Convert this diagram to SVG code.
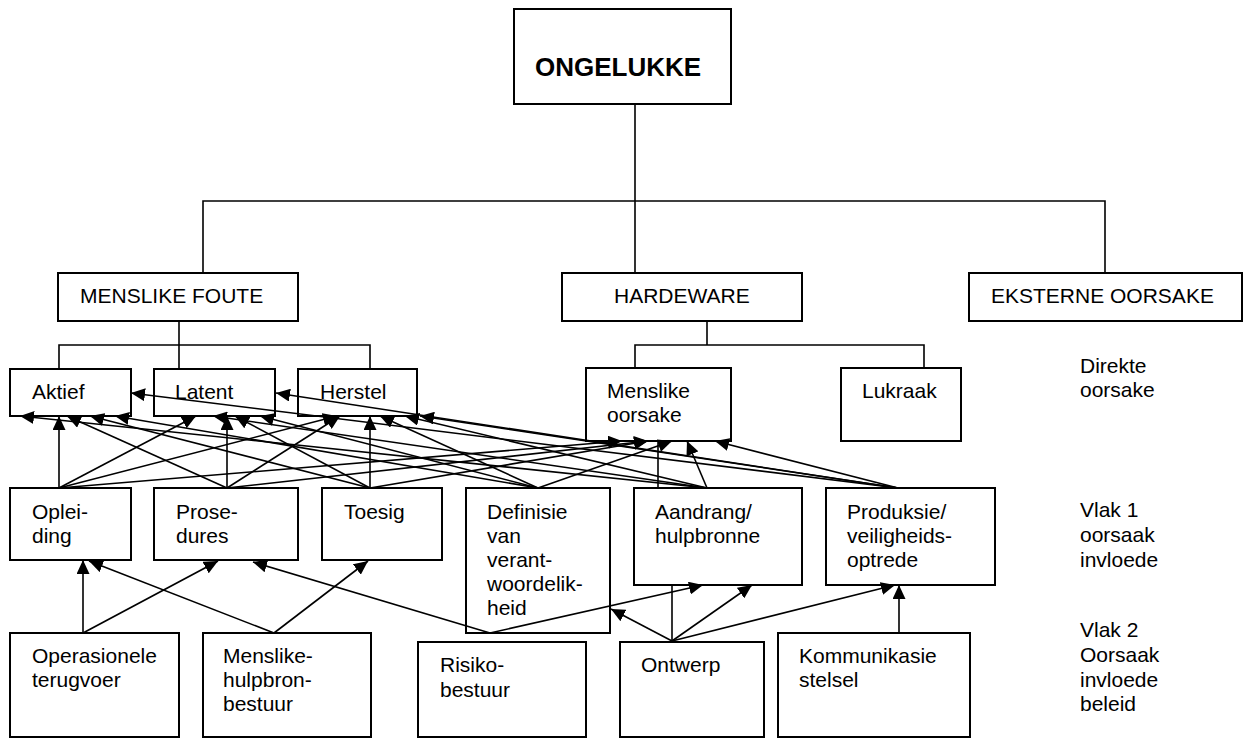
<svg xmlns="http://www.w3.org/2000/svg" width="1251" height="738" viewBox="0 0 1251 738">
  <defs>
    <marker id="arrow" markerUnits="userSpaceOnUse" markerWidth="15" markerHeight="13" refX="14" refY="6.5" orient="auto">
      <path d="M0,0 L14,6.5 L0,13 z" fill="#000"/>
    </marker>
    <style>
      .box { fill: none; stroke: #000; stroke-width: 2; }
      .tree { fill: none; stroke: #000; stroke-width: 1.6; }
      .link { fill: none; stroke: #000; stroke-width: 1.6; marker-end: url(#arrow); }
      .plain { fill: none; stroke: #000; stroke-width: 1.6; }
      text { font-family: "Liberation Sans", Arial, sans-serif; font-size: 21px; fill: #000; }
      .title { font-weight: bold; font-size: 26px; }
    </style>
  </defs>
  <rect width="1251" height="738" fill="#fff"/>

  <!-- hierarchy lines -->
  <g id="tree-lines">
    <path class="tree" d="M635,104 V273 M203,273 V201 H1105 V273"/>
    <path class="tree" d="M179,321 V369 M59,369 V345 H370 V369"/>
    <path class="tree" d="M707,321 V345 M635,368 V345 H924 V368"/>
  </g>

  <!-- nodes -->
  <g id="ongelukke">
    <rect class="box" x="514" y="9" width="217" height="95"/>
    <text class="title" x="535" y="76">ONGELUKKE</text>
  </g>
  <g id="menslike-foute">
    <rect class="box" x="58" y="273" width="240" height="48"/>
    <text x="80" y="303">MENSLIKE FOUTE</text>
  </g>
  <g id="hardeware">
    <rect class="box" x="562" y="273" width="240" height="48"/>
    <text x="614" y="303">HARDEWARE</text>
  </g>
  <g id="eksterne-oorsake">
    <rect class="box" x="969" y="273" width="273" height="48"/>
    <text x="991" y="303">EKSTERNE OORSAKE</text>
  </g>

  <g id="aktief">
    <rect class="box" x="10" y="369" width="121" height="47"/>
    <text x="32" y="399">Aktief</text>
  </g>
  <g id="latent">
    <rect class="box" x="154" y="369" width="121" height="47"/>
    <text x="175" y="399">Latent</text>
  </g>
  <g id="herstel">
    <rect class="box" x="298" y="369" width="119" height="47"/>
    <text x="320" y="399">Herstel</text>
  </g>
  <g id="menslike-oorsake">
    <rect class="box" x="586" y="368" width="145" height="73"/>
    <text x="607" y="398">Menslike<tspan x="607" dy="24">oorsake</tspan></text>
  </g>
  <g id="lukraak">
    <rect class="box" x="841" y="368" width="120" height="73"/>
    <text x="862" y="398">Lukraak</text>
  </g>

  <g id="opleiding">
    <rect class="box" x="10" y="488" width="121" height="72"/>
    <text x="32" y="519">Oplei-<tspan x="32" dy="24">ding</tspan></text>
  </g>
  <g id="prosedures">
    <rect class="box" x="154" y="488" width="144" height="72"/>
    <text x="176" y="519">Prose-<tspan x="176" dy="24">dures</tspan></text>
  </g>
  <g id="toesig">
    <rect class="box" x="322" y="488" width="120" height="72"/>
    <text x="344" y="519">Toesig</text>
  </g>
  <g id="definisie">
    <rect class="box" x="466" y="488" width="144" height="145"/>
    <text x="487" y="519">Definisie<tspan x="487" dy="24">van</tspan><tspan x="487" dy="24">verant-</tspan><tspan x="487" dy="24">woordelik-</tspan><tspan x="487" dy="24">heid</tspan></text>
  </g>
  <g id="aandrang">
    <rect class="box" x="634" y="488" width="168" height="97"/>
    <text x="655" y="519">Aandrang/<tspan x="655" dy="24">hulpbronne</tspan></text>
  </g>
  <g id="produksie">
    <rect class="box" x="826" y="488" width="169" height="97"/>
    <text x="847" y="519">Produksie/<tspan x="847" dy="24">veiligheids-</tspan><tspan x="847" dy="24">optrede</tspan></text>
  </g>

  <g id="operasionele">
    <rect class="box" x="10" y="633" width="169" height="104"/>
    <text x="32" y="663">Operasionele<tspan x="32" dy="24">terugvoer</tspan></text>
  </g>
  <g id="hulpbronbestuur">
    <rect class="box" x="203" y="633" width="168" height="104"/>
    <text x="223" y="663">Menslike-<tspan x="223" dy="24">hulpbron-</tspan><tspan x="223" dy="24">bestuur</tspan></text>
  </g>
  <g id="risiko">
    <rect class="box" x="418" y="642" width="168" height="95"/>
    <text x="440" y="672">Risiko-<tspan x="440" dy="25">bestuur</tspan></text>
  </g>
  <g id="ontwerp">
    <rect class="box" x="620" y="642" width="144" height="95"/>
    <text x="641" y="672">Ontwerp</text>
  </g>
  <g id="kommunikasie">
    <rect class="box" x="778" y="633" width="192" height="104"/>
    <text x="799" y="663">Kommunikasie<tspan x="799" dy="24">stelsel</tspan></text>
  </g>

  <!-- influence arrows, drawn over the boxes -->
  <g id="connectors">
    <!-- Opleiding -->
    <line class="link" x1="59" y1="488" x2="59" y2="416"/>
    <line class="link" x1="59" y1="488" x2="196" y2="416"/>
    <line class="link" x1="59" y1="488" x2="337" y2="416"/>
    <line class="link" x1="59" y1="488" x2="622" y2="441"/>
    <!-- Prosedures -->
    <line class="link" x1="227" y1="488" x2="67" y2="416"/>
    <line class="link" x1="227" y1="488" x2="227" y2="416"/>
    <line class="link" x1="227" y1="488" x2="340" y2="416"/>
    <line class="link" x1="227" y1="488" x2="648" y2="441"/>
    <!-- Toesig -->
    <line class="link" x1="370" y1="488" x2="90" y2="416"/>
    <line class="link" x1="370" y1="488" x2="235" y2="416"/>
    <line class="link" x1="370" y1="488" x2="370" y2="416"/>
    <line class="link" x1="370" y1="488" x2="648" y2="441"/>
    <!-- Definisie -->
    <line class="link" x1="538" y1="488" x2="115" y2="416"/>
    <line class="link" x1="538" y1="488" x2="260" y2="416"/>
    <line class="link" x1="538" y1="488" x2="380" y2="416"/>
    <line class="link" x1="538" y1="488" x2="672" y2="441"/>
    <!-- Aandrang -->
    <line class="link" x1="707" y1="488" x2="20" y2="416"/>
    <line class="link" x1="707" y1="488" x2="213" y2="416"/>
    <line class="link" x1="707" y1="488" x2="405" y2="416"/>
    <line class="link" x1="707" y1="488" x2="687" y2="441"/>
    <line class="plain" x1="658" y1="488" x2="658" y2="441"/>
    <!-- Produksie -->
    <line class="link" x1="898" y1="488" x2="131" y2="393"/>
    <line class="link" x1="898" y1="488" x2="276" y2="393"/>
    <line class="link" x1="898" y1="488" x2="420" y2="416"/>
    <line class="link" x1="898" y1="488" x2="715" y2="441"/>

    <!-- second level -->
    <line class="link" x1="83" y1="633" x2="83" y2="560"/>
    <line class="link" x1="83" y1="633" x2="218" y2="561"/>
    <line class="link" x1="274" y1="633" x2="89" y2="561"/>
    <line class="link" x1="274" y1="633" x2="368" y2="561"/>
    <line class="link" x1="490" y1="633" x2="253" y2="562"/>
    <line class="link" x1="490" y1="633" x2="703" y2="585"/>
    <line class="link" x1="672" y1="641" x2="611" y2="609"/>
    <line class="plain" x1="672" y1="641" x2="672" y2="585"/>
    <line class="link" x1="672" y1="641" x2="752" y2="585"/>
    <line class="link" x1="672" y1="641" x2="895" y2="585"/>
    <line class="link" x1="899" y1="633" x2="899" y2="585"/>
  </g>

  <!-- level labels -->
  <g id="labels">
    <text x="1080" y="373">Direkte<tspan x="1080" dy="24">oorsake</tspan></text>
    <text x="1080" y="517">Vlak 1<tspan x="1080" dy="25">oorsaak</tspan><tspan x="1080" dy="25">invloede</tspan></text>
    <text x="1080" y="637">Vlak 2<tspan x="1080" dy="25">Oorsaak</tspan><tspan x="1080" dy="25">invloede</tspan><tspan x="1080" dy="24">beleid</tspan></text>
  </g>
</svg>
